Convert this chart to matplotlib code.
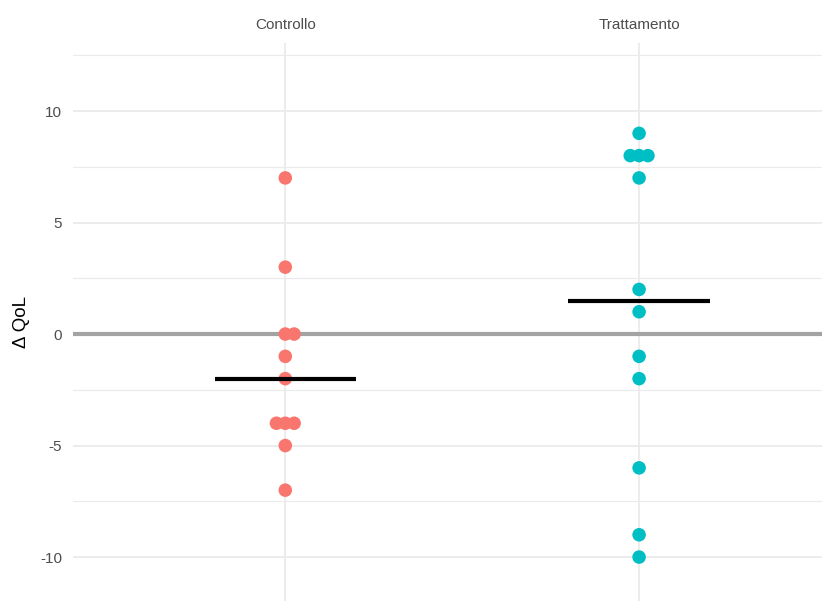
import numpy as np
import matplotlib.pyplot as plt

plt.rcParams['font.family'] = ['Liberation Sans', 'DejaVu Sans']
plt.rcParams['axes.unicode_minus'] = False

groups = ['Controllo', 'Trattamento']
controllo = [7, 3, 0, 0, -1, -2, -4, -4, -4, -5, -7]
trattamento = [9, 8, 8, 8, 7, 2, 1, -1, -2, -6, -9, -10]
colors = ['#F8766D', '#00BFC4']
y_ticks = [-10, -5, 0, 5, 10]

def swarm_offsets(vals, step=0.025):
    # simple beeswarm: spread ties sideways around the centre
    vals = np.array(vals)
    off = np.zeros(len(vals))
    for v in np.unique(vals):
        idx = np.where(vals == v)[0]
        n = len(idx)
        if n == 1:
            continue
        start = -((n - 1) // 2)
        off[idx] = (start + np.arange(n)) * step
    return off

fig = plt.figure(figsize=(8.22, 6.01), dpi=100)
ax = fig.add_axes([73/822, 0, 1 - 73/822, 558/601])

ax.set_xlim(0.4, 1 + (822 - 285) / 354)
ax.set_ylim(-11.97, 13.05)

# grid
for y in [-7.5, -2.5, 2.5, 7.5, 12.5]:
    ax.axhline(y, color='#EBEBEB', lw=0.8, zorder=0)
for y in y_ticks:
    ax.axhline(y, color='#EBEBEB', lw=1.3, zorder=0)
for x in [1, 2]:
    ax.axvline(x, color='#EBEBEB', lw=1.3, zorder=0)

ax.axhline(0, color='#A3A3A3', lw=3, zorder=1)

for i, (vals, c) in enumerate(zip([controllo, trattamento], colors)):
    x = i + 1 + swarm_offsets(vals)
    ax.scatter(x, vals, s=95, color=c, edgecolors='none', zorder=3)
    med = np.median(vals)
    ax.plot([i + 1 - 0.2, i + 1 + 0.2], [med, med], color='black', lw=3,
            solid_capstyle='butt', zorder=4)

ax.set_xticks([1, 2])
ax.set_xticklabels(groups)
ax.xaxis.tick_top()
ax.set_yticks(y_ticks)
ax.tick_params(axis='both', length=0, labelsize=11, labelcolor='#4D4D4D')
ax.tick_params(axis='x', pad=8)
ax.tick_params(axis='y', pad=8)
ax.set_ylabel('Δ QoL', fontsize=13.5, labelpad=7)
for s in ax.spines.values():
    s.set_visible(False)

fig.savefig('out.png', dpi=100)
